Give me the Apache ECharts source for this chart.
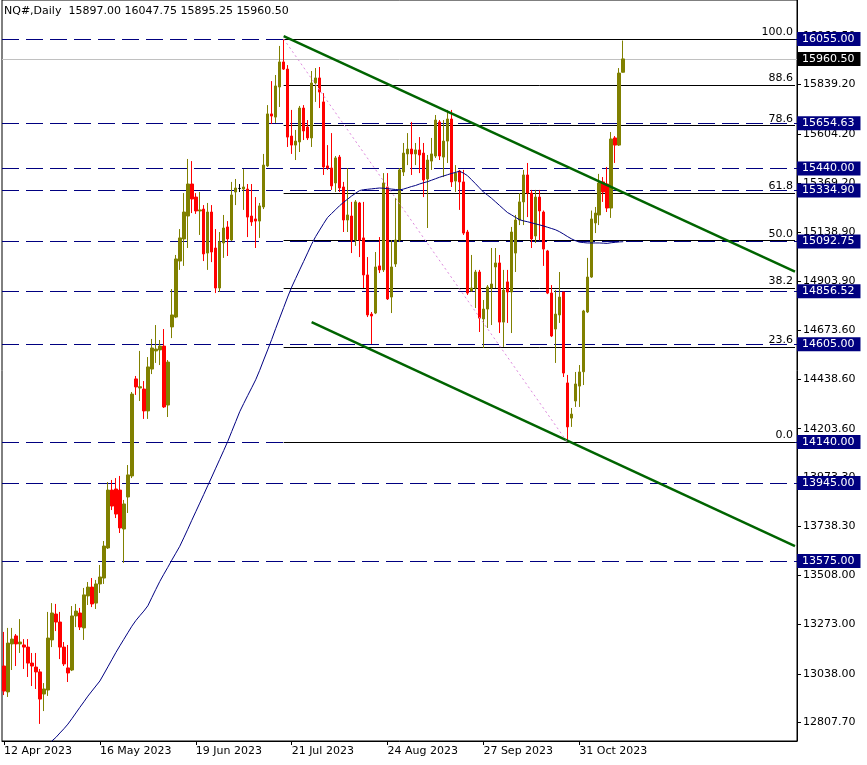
<!DOCTYPE html>
<html><head><meta charset="utf-8">
<script src="https://cdn.jsdelivr.net/npm/echarts@6/dist/echarts.min.js"></script>
<style>html,body{margin:0;padding:0;background:#fff}#c{width:867px;height:765px}</style>
</head><body><div id="c"></div>
<script>
const chartTitle = 'NQ#,Daily  15897.00 16047.75 15895.25 15960.50';
const firstDate = [2023, 3, 12];
const slotCount = 199;
const labelEvery = 24;
const lastLabelIndex = 144;

const opens = [13076,12953,13181,13219,13181,13176,13166,13090,13071,13048,12943,12962,13200,13323,13285,13166,13067,13057,13314,13328,
13257,13409,13451,13375,13466,13494,13637,13912,13917,13912,13727,13879,13979,14440,14397,14392,14288,14487,14573,14578,
14596,14316,14687,14734,15000,15105,15214,15366,15304,15238,15247,15038,15233,15062,14872,15086,15162,15100,15328,15345,
15342,15342,15214,15200,15190,15257,15452,15699,15684,15827,15946,15912,15594,15551,15566,15727,15637,15585,15846,15870,
15756,15452,15442,15371,15494,15352,15195,15214,15100,15276,15110,14934,14748,14753,14977,14958,15352,14829,14986,15100,
15423,15509,15532,15509,15528,15513,15390,15475,15499,15661,15494,15570,15675,15380,15428,15376,15138,14858,14872,14948,
14725,14772,14872,14972,14991,14710,14901,14853,15038,15195,15281,15409,15323,15119,15304,15233,15048,14848,14677,14744,
14853,14421,14254,14335,14406,14474,14758,14924,15181,15219,15376,15366,15252,15585,15551,15897];
const closes = [12957,13185,13204,13181,13190,13166,13090,13076,13048,12919,12967,13209,13328,13285,13166,13086,13043,13314,13337,13261,
13414,13451,13371,13466,13499,13646,13912,13836,13798,13732,13846,13984,14368,14402,14403,14288,14497,14587,14582,14596,
14307,14520,14744,15010,15110,15233,15366,15295,15238,15243,15034,15233,15043,14872,15091,15157,15105,15314,15347,15345,
15352,15209,15186,15190,15262,15456,15699,15689,15832,15946,15912,15589,15551,15570,15727,15618,15585,15846,15870,15803,
15447,15442,15357,15490,15347,15195,15219,15100,15281,15100,14934,14744,14739,14972,14958,15371,14820,14972,15100,15433,
15513,15532,15509,15528,15504,15385,15480,15509,15670,15499,15570,15675,15376,15418,15376,15133,14848,14872,14948,14729,
14772,14877,14891,14991,14710,14862,14853,15138,15195,15281,15409,15323,15105,15304,15238,15057,14848,14644,14748,14829,
14468,14212,14273,14416,14473,14763,14924,15200,15228,15371,15328,15252,15580,15551,15893,15960.5];
const lows = [12938,12929,13057,13076,13138,13062,13024,12981,12967,12801,12862,12934,13166,13242,13109,13076,13000,13052,13261,13247,
13200,13366,13356,13347,13423,13466,13632,13817,13779,13708,13566,13803,13969,14364,14335,14250,14250,14463,14516,14506,
14302,14259,14634,14729,14958,14977,15062,15228,15224,15124,15000,14958,14995,14848,14853,15015,15024,15095,15266,15328,
15243,15114,15167,15062,15110,15247,15447,15651,15656,15732,15908,15542,15509,15480,15518,15575,15575,15542,15756,15727,
15409,15433,15338,15328,15328,15138,15138,15038,15072,15019,14872,14734,14606,14748,14943,14948,14815,14753,14972,15091,
15404,15456,15409,15456,15418,15304,15157,15433,15490,15480,15399,15466,15352,15328,15243,15124,14839,14853,14777,14663,
14587,14682,14696,14872,14658,14592,14706,14658,14948,15171,15171,15209,15062,15086,15100,14977,14843,14639,14516,14706,
14449,14140,14212,14307,14307,14411,14753,14920,15133,15171,15281,15233,15205,15466,15547,15895.25];
const highs = [13238,13257,13257,13228,13299,13204,13204,13138,13138,13062,12995,13333,13375,13371,13333,13190,13176,13361,13371,13352,
13447,13475,13494,13485,13556,13670,13950,13960,13969,13979,13865,14031,14378,14454,14573,14430,14544,14630,14696,14625,
14677,14530,14867,15029,15152,15323,15485,15475,15323,15328,15266,15276,15266,15152,15138,15219,15190,15376,15390,15366,
15437,15366,15366,15304,15276,15509,15741,15855,15884,16022,16055,15931,15718,15623,15737,15741,15670,15903,15917,15922,
15798,15551,15608,15499,15504,15376,15442,15281,15290,15281,15281,15019,14758,15043,15114,15418,15418,15100,15300,15442,
15561,15608,15661,15561,15589,15561,15504,15585,15694,15670,15670,15718,15718,15456,15433,15433,15148,15029,14958,14958,
14815,14886,15062,15062,15029,14958,14958,15162,15219,15323,15433,15466,15338,15338,15338,15240,15053,14886,14862,14948,
14853,14459,14302,14473,14506,14768,15015,15240,15257,15414,15399,15447,15613,15594,15917,16047.75];
const movingAvg = [null,null,null,null,null,null,null,null,null,null,null,12699,12720,12737,12758,12778,12800,12826,12853,12880,
12906,12933,12957,12981,13005,13038,13072,13106,13140,13172,13203,13234,13265,13292,13315,13337,13362,13401,13440,13478,
13512,13545,13579,13612,13645,13685,13726,13768,13809,13850,13891,13933,13974,14016,14058,14100,14143,14190,14237,14284,
14323,14361,14398,14436,14481,14530,14578,14627,14679,14729,14779,14829,14876,14917,14958,14998,15039,15080,15116,15147,
15178,15207,15226,15244,15263,15279,15294,15309,15322,15335,15339,15341,15343,15345,15347,15346,15344,15342,15340,15338,
15342,15348,15354,15359,15366,15372,15377,15384,15391,15398,15404,15410,15416,15421,15427,15418,15406,15387,15368,15348,
15328,15314,15299,15282,15265,15248,15231,15220,15208,15197,15191,15187,15182,15177,15172,15167,15161,15155,15149,15140,
15129,15117,15106,15097,15090,15088,15086,15086,15086,15086,15085,15084,15087,15089,15091,15092];

const priceTicks = [16069.50,15839.20,15604.20,15369.20,15138.90,14903.90,14673.60,14438.60,14203.60,13973.30,13738.30,13508.00,13273.00,13038.00,12807.70];
const levelPrices = [16055.00,15654.63,15440.00,15334.90,15092.75,14856.52,14605.00,14140.00,13945.00,13575.00];
const lastPrice = 15960.50;
const fibLow = 14140, fibHigh = 16055;
const fibRatios = [100.0, 88.6, 78.6, 61.8, 50.0, 38.2, 23.6, 0.0];
const fibStartIdx = 70, fibLowIdx = 141, rightIdx = 198;
const upperTrend = [[70, 16069], [198, 14950]];
const lowerTrend = [[77, 14710], [198, 13646]];
const yMin = 12719.8, yMax = 16240.3;

const FONT = 'DejaVu Sans';
const months = ['Jan','Feb','Mar','Apr','May','Jun','Jul','Aug','Sep','Oct','Nov','Dec'];
const cats = [];
{
  const d = new Date(Date.UTC(firstDate[0], firstDate[1], firstDate[2]));
  while (cats.length < slotCount) {
    const wd = d.getUTCDay();
    if (wd !== 0 && wd !== 6) cats.push(d.getUTCDate() + ' ' + months[d.getUTCMonth()] + ' ' + d.getUTCFullYear());
    d.setUTCDate(d.getUTCDate() + 1);
  }
}
const showLabel = (i) => i % labelEvery === 0 && i <= lastLabelIndex;

const candles = opens.map((o, i) => [o, closes[i], lows[i], highs[i]]);

const boxLabel = (txt, bg) => ({
  show: true, position: 'end', distance: 0, formatter: txt,
  backgroundColor: bg, color: '#fff', padding: [1, 6, 1, 5],
  fontSize: 11, lineHeight: 12, fontFamily: FONT
});

const bgLines = [];
levelPrices.forEach(v => bgLines.push({
  yAxis: v, lineStyle: { color: '#000080', type: [17, 7], width: 1 },
  label: boxLabel(v.toFixed(2), '#000080')
}));
bgLines.push({ yAxis: lastPrice, lineStyle: { color: '#c0c0c0', type: 'solid', width: 1 },
  label: boxLabel(lastPrice.toFixed(2), '#000000') });
fibRatios.forEach(r => {
  const v = fibLow + (fibHigh - fibLow) * r / 100;
  bgLines.push([
    { coord: [fibStartIdx, v], lineStyle: { color: '#000000', type: 'solid', width: 1 },
      label: { show: true, position: 'insideEndTop', formatter: r.toFixed(1), color: '#000', fontSize: 11, fontFamily: FONT, distance: [2, 1] } },
    { coord: [rightIdx, v] }
  ]);
});

const fgLines = [
  [{ coord: upperTrend[0], lineStyle: { color: '#006400', width: 2.5, type: 'solid' } }, { coord: upperTrend[1] }],
  [{ coord: lowerTrend[0], lineStyle: { color: '#006400', width: 2.5, type: 'solid' } }, { coord: lowerTrend[1] }],
  [{ coord: [fibStartIdx, fibHigh], lineStyle: { color: '#dd88dd', width: 1, type: [2, 3] } }, { coord: [fibLowIdx, fibLow] }]
];

const chart = echarts.init(document.getElementById('c'), null, { renderer: 'canvas' });
chart.setOption({
  animation: false,
  backgroundColor: '#ffffff',
  title: { text: chartTitle, left: 4, top: 6, padding: 0,
    textStyle: { fontSize: 11, fontWeight: 'normal', color: '#000', fontFamily: FONT } },
  grid: { left: 2, right: 70, top: 0, bottom: 24, show: true, borderColor: '#000', borderWidth: 1, backgroundColor: 'transparent' },
  xAxis: {
    type: 'category', data: cats, boundaryGap: true,
    axisLine: { show: true, lineStyle: { color: '#000', width: 1 } },
    axisTick: { show: true, alignWithLabel: true, interval: showLabel, length: 4, lineStyle: { color: '#000' } },
    axisLabel: { interval: showLabel, align: 'left', margin: 5, color: '#000', fontSize: 11, fontFamily: FONT },
    splitLine: { show: false }
  },
  yAxis: {
    type: 'value', position: 'right', min: yMin, max: yMax, scale: true,
    axisLine: { show: true, lineStyle: { color: '#000', width: 1 } },
    axisTick: { show: true, customValues: priceTicks, length: 4, lineStyle: { color: '#000' } },
    axisLabel: { customValues: priceTicks, formatter: v => v.toFixed(2), margin: 6, color: '#000', fontSize: 11, fontFamily: FONT },
    splitLine: { show: false }
  },
  series: [
    {
      type: 'candlestick', data: candles, barWidth: 3, z: 3,
      itemStyle: { color: '#808000', color0: '#ff0000', borderColor: '#808000', borderColor0: '#ff0000', borderColorDoji: '#000000', borderWidth: 1 },
      markLine: { silent: true, z: 1, symbol: ['none', 'none'], precision: 2, animation: false, data: bgLines }
    },
    {
      type: 'line', data: movingAvg, showSymbol: false, symbol: 'none', z: 4, clip: true,
      lineStyle: { color: '#000080', width: 1 },
      markLine: { silent: true, z: 5, symbol: ['none', 'none'], animation: false, label: { show: false }, data: fgLines }
    }
  ]
});
</script>
</body></html>
